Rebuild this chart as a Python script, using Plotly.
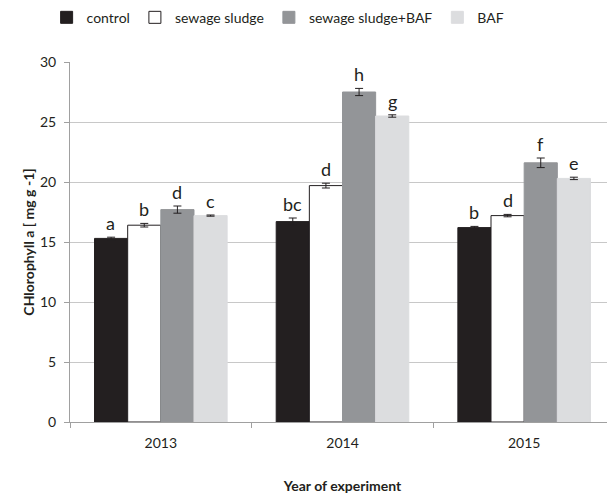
import plotly.graph_objects as go

years = ["2013", "2014", "2015"]
series = ["control", "sewage sludge", "sewage sludge+BAF", "BAF"]
values = {
    "control": [15.3, 16.7, 16.2],
    "sewage sludge": [16.4, 19.7, 17.2],
    "sewage sludge+BAF": [17.7, 27.5, 21.6],
    "BAF": [17.2, 25.5, 20.3],
}
errors = {
    "control": [0.1, 0.3, 0.1],
    "sewage sludge": [0.15, 0.2, 0.1],
    "sewage sludge+BAF": [0.3, 0.3, 0.4],
    "BAF": [0.05, 0.1, 0.1],
}
letters = {
    "control": ["a", "bc", "b"],
    "sewage sludge": ["b", "d", "d"],
    "sewage sludge+BAF": ["d", "h", "f"],
    "BAF": ["c", "g", "e"],
}
fills = {
    "control": "#231f20",
    "sewage sludge": "#ffffff",
    "sewage sludge+BAF": "#939598",
    "BAF": "#dcdddf",
}
lines = {
    "control": "#231f20",
    "sewage sludge": "#231f20",
    "sewage sludge+BAF": "#939598",
    "BAF": "#dcdddf",
}

FONT = "Lato"
fig = go.Figure()
for s in series:
    fig.add_trace(go.Bar(
        x=years, y=values[s], name=s,
        marker=dict(color=fills[s], line=dict(color=lines[s], width=1)),
        error_y=dict(type="data", array=errors[s], color="#231f20", thickness=1, width=4),
    ))

bar_px = 33.3
for i, s in enumerate(series):
    for j, yr in enumerate(years):
        fig.add_annotation(
            x=j, y=values[s][j] + errors[s][j], text=letters[s][j],
            showarrow=False, xshift=(i - 1.5) * bar_px, yshift=14,
            font=dict(family=FONT, size=18, color="#231f20"),
        )

# page body has an 8px margin, so the figure is sized/offset to compensate
fig.update_layout(
    width=607, height=487,
    margin=dict(l=62, r=0, t=54, b=73),
    paper_bgcolor="white", plot_bgcolor="white",
    barmode="group", bargap=0.27, bargroupgap=0,
    font=dict(family=FONT, size=14, color="#231f20"),
    legend=dict(orientation="h", xref="container", x=0.445, xanchor="center",
                yref="container", y=0.98, yanchor="middle",
                font=dict(family=FONT, size=14), itemwidth=30, traceorder="normal"),
    xaxis=dict(type="category", showline=True, linecolor="#a0a0a0", ticks="outside",
               tickson="boundaries", tickcolor="#a0a0a0", ticklen=5, tickfont=dict(size=14),
               ticklabelstandoff=8,
               title=dict(text="<b>Year of experiment</b>", font=dict(size=14), standoff=31)),
    yaxis=dict(range=[0, 30], dtick=5, showline=True, linecolor="#a0a0a0",
               gridcolor="#c8c8c8", ticks="outside", tickcolor="#a0a0a0", ticklen=5,
               zeroline=False, tickfont=dict(size=14), ticklabelstandoff=5,
               title=dict(text="<b>CHlorophyll a [ mg g -1]</b>", font=dict(size=14), standoff=2)),
)
fig.write_html("out.html")
